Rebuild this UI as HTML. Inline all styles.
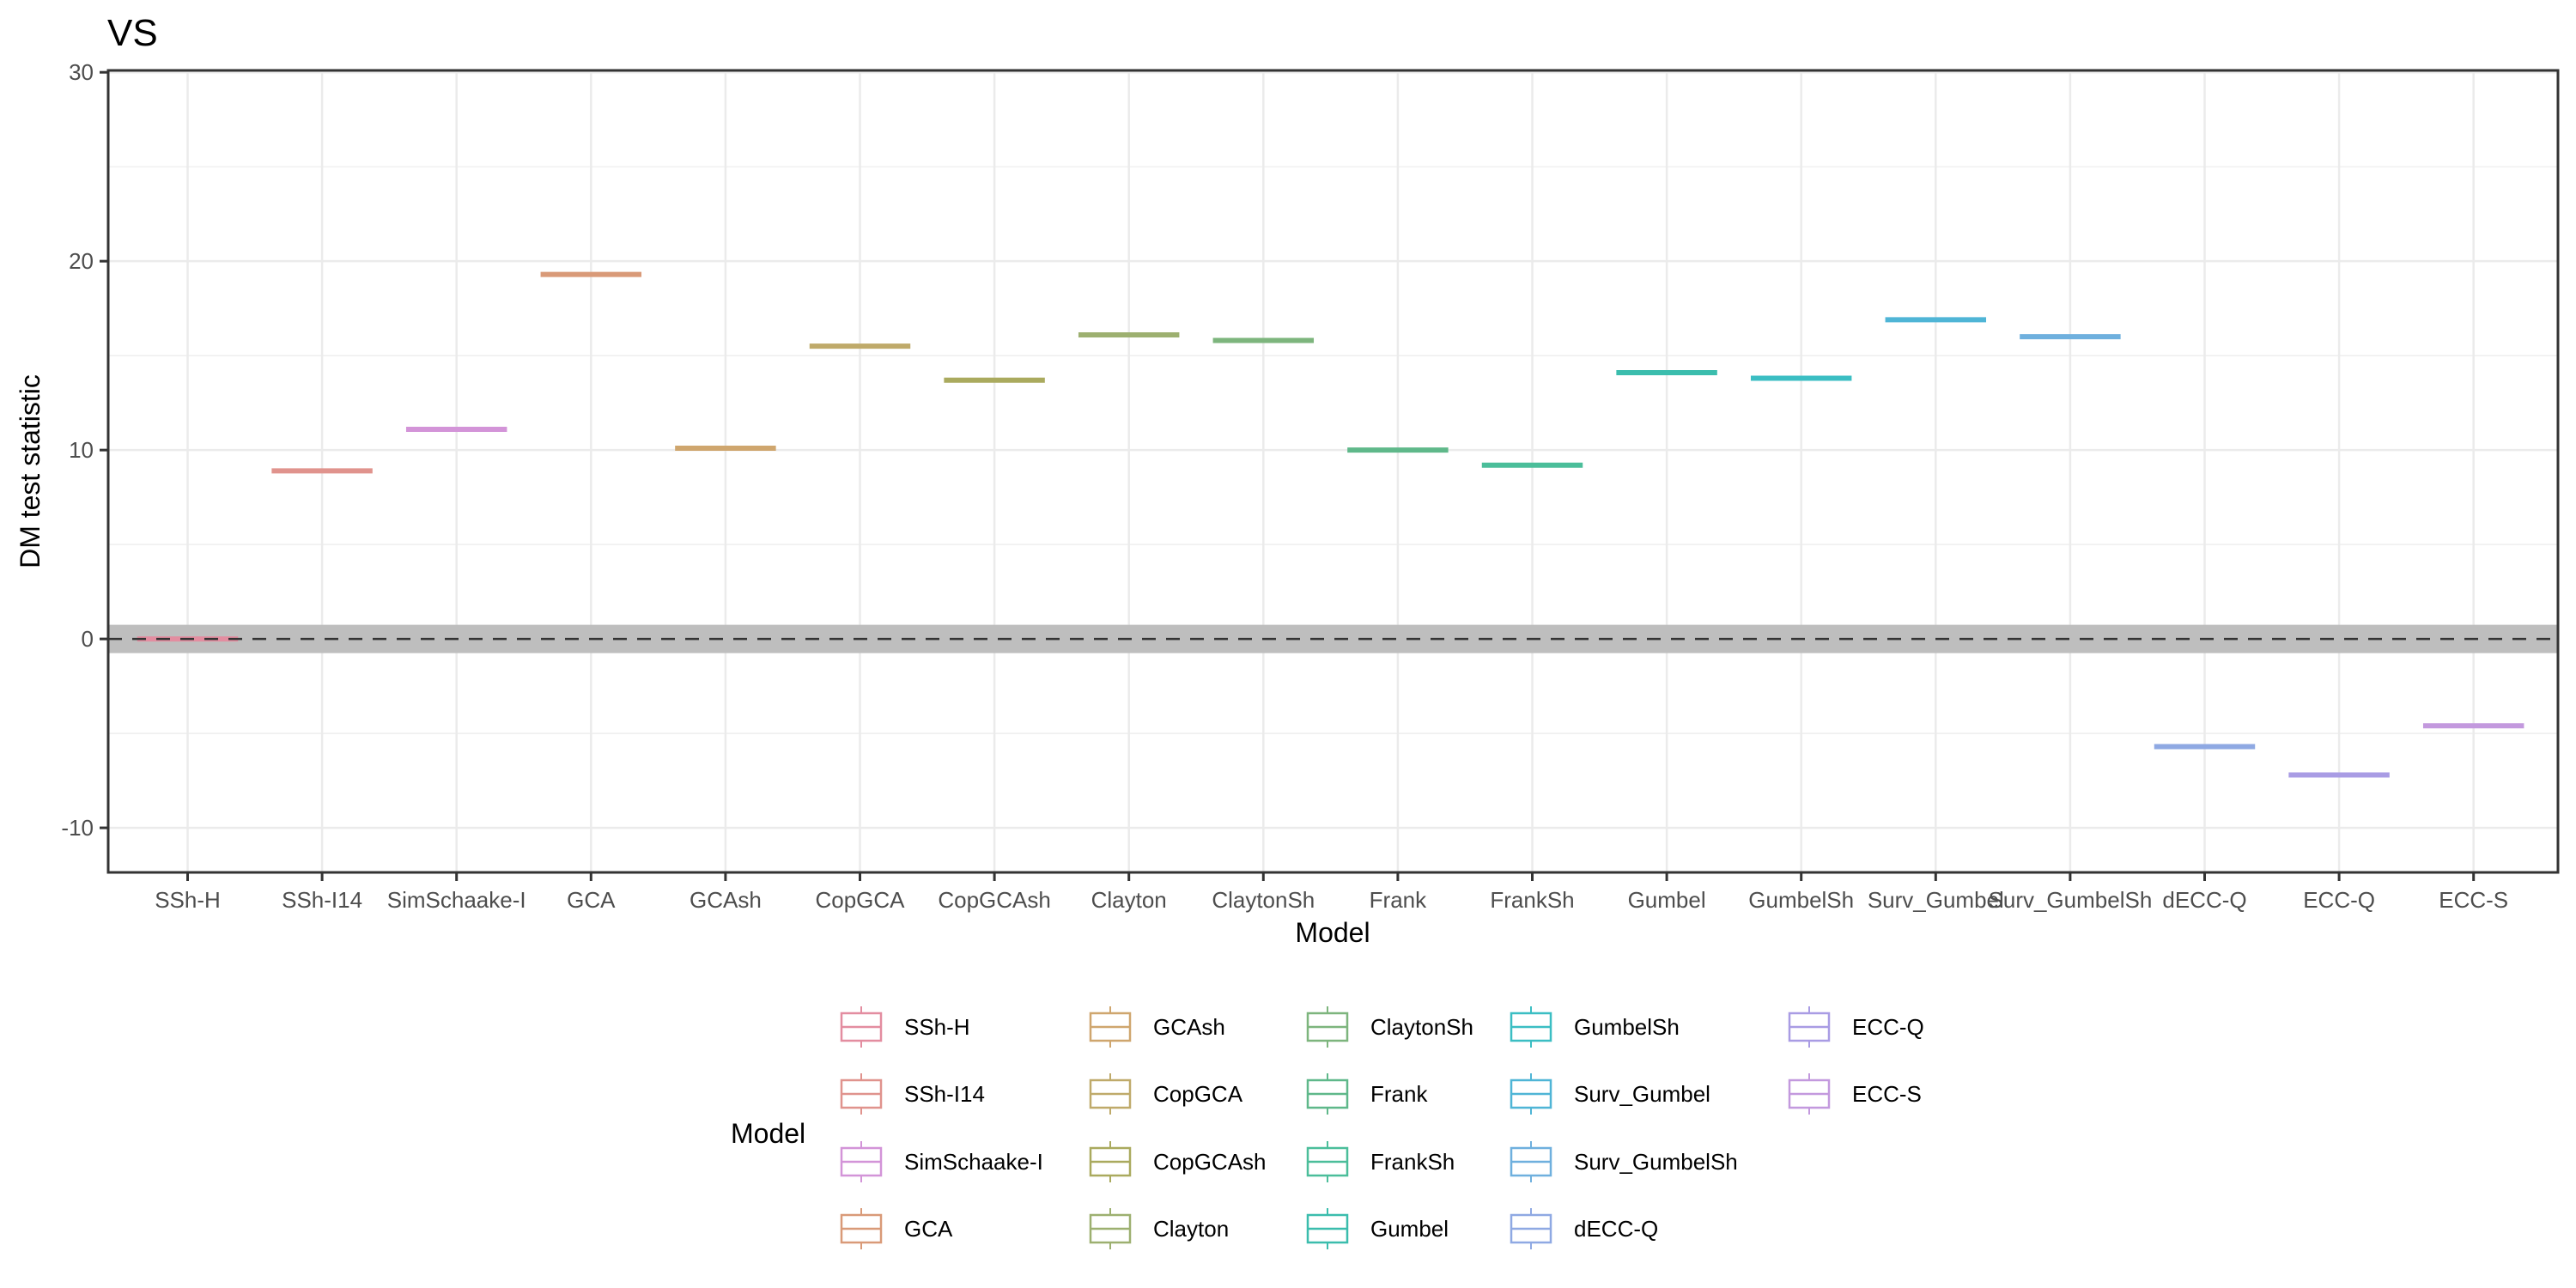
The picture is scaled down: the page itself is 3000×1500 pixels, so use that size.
<!DOCTYPE html>
<html><head><meta charset="utf-8"><style>
html,body{margin:0;padding:0;background:#fff;}
svg{display:block;font-family:"Liberation Sans",Arial,sans-serif;}
</style></head><body>
<svg id="chart" width="3000" height="1500" viewBox="0 0 3000 1500" xmlns="http://www.w3.org/2000/svg">
<rect width="3000" height="1500" fill="#fff"/>
<text x="125" y="53" font-size="44" fill="#000">VS</text>
<g id="grid"></g>
<rect id="band" fill="#bebebe"/>
<g id="bars"></g>
<line id="zeroline" stroke="#333" stroke-width="2.5" stroke-dasharray="16,12"/>
<rect x="126" y="82" width="2853" height="934" fill="none" stroke="#333" stroke-width="3"/>
<g id="yaxis"></g>
<g id="xaxis"></g>
<text x="1552" y="1097" font-size="32" text-anchor="middle" fill="#000">Model</text>
<text transform="translate(46,549) rotate(-90)" font-size="32" text-anchor="middle" fill="#000">DM test statistic</text>
<text x="851" y="1331" font-size="32" fill="#000">Model</text>
<g id="legend"></g>
</svg>
<script>
const categories = ["SSh-H","SSh-I14","SimSchaake-I","GCA","GCAsh","CopGCA","CopGCAsh","Clayton","ClaytonSh","Frank","FrankSh","Gumbel","GumbelSh","Surv_Gumbel","Surv_GumbelSh","dECC-Q","ECC-Q","ECC-S"];
const values = [0, 8.9, 11.1, 19.3, 10.1, 15.5, 13.7, 16.1, 15.8, 10.0, 9.2, 14.1, 13.8, 16.9, 16.0, -5.7, -7.2, -4.6];
const colors = ["#E38DA0","#E0938D","#D394D8","#D99A78","#CFA66E","#BFAA6A","#AAAA5E","#9DB070","#7DB57D","#5FB88A","#4BBE9A","#3BBDAD","#3BBEC3","#4FB5D6","#6FB0DE","#8FA9E3","#A99CE4","#C399DE"];
const yTicks = [-10, 0, 10, 20, 30];
const yMinor = [-5, 5, 15, 25];
const bandHalf = 0.75;

const NS = "http://www.w3.org/2000/svg";
const L = 126, R = 2979, T = 82, B = 1016;
const yMax = 30.1, yMin = -12.36;
function y(v){ return T + (yMax - v) / (yMax - yMin) * (B - T); }
const step = 156.6, x0 = 218.5;
function x(i){ return x0 + i * step; }
const bw = step * 0.75;
function mk(tag, attrs, parent){ const e = document.createElementNS(NS, tag); for (const k in attrs) e.setAttribute(k, attrs[k]); parent.appendChild(e); return e; }

const grid = document.getElementById('grid');
yMinor.forEach(v => {
  const l = mk('line', {x1:L, x2:R, y1:y(v), y2:y(v), stroke:'#ebebeb', 'stroke-width':1.2}, grid);
  
  
});
yTicks.forEach(v => {
  const l = mk('line', {x1:L, x2:R, y1:y(v), y2:y(v), stroke:'#ebebeb', 'stroke-width':2.5}, grid);
  
  
});
categories.forEach((c, i) => {
  const l = mk('line', {x1:x(i), x2:x(i), y1:T, y2:B, stroke:'#ebebeb', 'stroke-width':2.5}, grid);
  
  
});

const band = document.getElementById('band');
band.setAttribute('x', L); band.setAttribute('width', R - L);
band.setAttribute('y', y(bandHalf)); band.setAttribute('height', y(-bandHalf) - y(bandHalf));

const bars = document.getElementById('bars');
values.forEach((v, i) => {
  const l = mk('line', {x1:x(i) - bw/2, x2:x(i) + bw/2, y1:y(v), y2:y(v), stroke:colors[i], 'stroke-width':6}, bars);
  
  
});

const zl = document.getElementById('zeroline');
zl.setAttribute('x1', L); zl.setAttribute('x2', R); zl.setAttribute('y1', y(0)); zl.setAttribute('y2', y(0));

const ya = document.getElementById('yaxis');
yTicks.forEach(v => {
  const t = mk('line', {x1:L - 10, x2:L, y1:y(v), y2:y(v), stroke:'#333', 'stroke-width':3}, ya);
  
  
  const tx = mk('text', {x:L - 17, y:y(v) + 9, 'font-size':26, fill:'#4d4d4d', 'text-anchor':'end'}, ya);
  tx.textContent = v;
  
  
});
const xa = document.getElementById('xaxis');
categories.forEach((c, i) => {
  const t = mk('line', {x1:x(i), x2:x(i), y1:B, y2:B + 10, stroke:'#333', 'stroke-width':3}, xa);
  
  
  const tx = mk('text', {x:x(i), y:1057, 'font-size':26, fill:'#4d4d4d', 'text-anchor':'middle'}, xa);
  tx.textContent = c;
  
  
});

const lg = document.getElementById('legend');
const colKeyX = [979, 1269, 1522, 1759, 2083];
const rowY = [1196, 1274, 1353, 1431];
categories.forEach((c, i) => {
  const col = Math.floor(i / 4), row = i % 4;
  const kx = colKeyX[col], cy = rowY[row];
  const g = mk('g', {}, lg);
  
  
  mk('line', {x1:kx + 24, x2:kx + 24, y1:cy - 24, y2:cy + 24, stroke:colors[i], 'stroke-width':2}, g);
  mk('rect', {x:kx + 1, y:cy - 16, width:46, height:32, fill:'#fff', stroke:colors[i], 'stroke-width':2.5}, g);
  mk('line', {x1:kx + 1, x2:kx + 47, y1:cy, y2:cy, stroke:colors[i], 'stroke-width':2.5}, g);
  const t = mk('text', {x:kx + 74, y:cy + 9, 'font-size':26, fill:'#000'}, g);
  t.textContent = c;
});
</script>
</body></html>
